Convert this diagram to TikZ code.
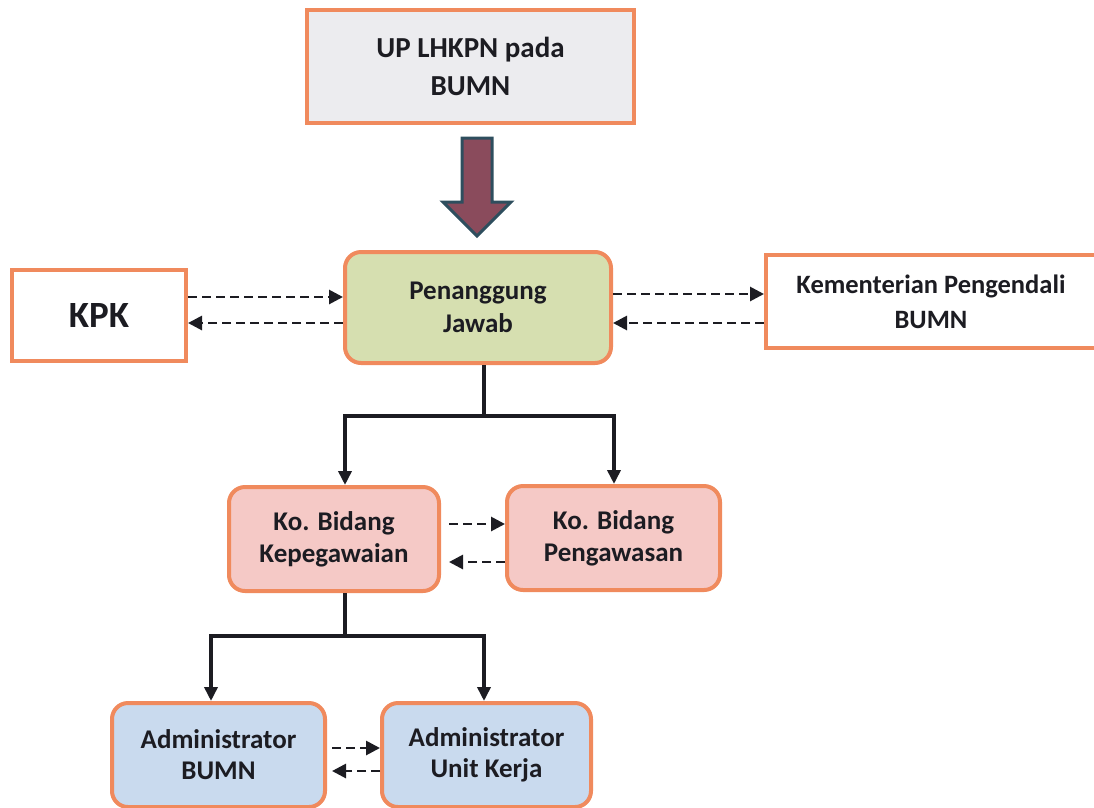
\documentclass[tikz,border=0pt]{standalone}
\usepackage{fontspec}
\setmainfont{Carlito}
\usetikzlibrary{arrows.meta}
\definecolor{borange}{HTML}{F08A5D}
\definecolor{gfill}{HTML}{ECECEF}
\definecolor{grfill}{HTML}{D6DFB0}
\definecolor{pkfill}{HTML}{F5C9C6}
\definecolor{blfill}{HTML}{C9DAEE}
\definecolor{ink}{HTML}{1C1C22}
\definecolor{arrfill}{HTML}{8A4B5C}
\definecolor{arredge}{HTML}{2E4E5E}
\tikzset{
  box/.style={draw=borange, line width=4pt, align=center, text=ink,
    font=\fontsize{27}{32}\selectfont\bfseries, inner sep=0pt},
  rbox/.style={box, rounded corners=16pt},
  dline/.style={draw=ink, line width=2.8pt, dash pattern=on 9pt off 5pt,
    -{Triangle[length=14pt,width=14pt]}},
  tline/.style={draw=ink, line width=3.8pt},
  tarrow/.style={tline, -{Triangle[length=14pt,width=13pt]}},
}
\begin{document}
\begin{tikzpicture}[x=1pt,y=-1pt]
\useasboundingbox (0,0) rectangle (1094,807);
% boxes
\node[box, fill=gfill, minimum width=327pt, minimum height=113pt, font=\fontsize{29}{38}\selectfont\bfseries] (up) at (470.5,66.5) {UP LHKPN pada\\BUMN};
\node[rbox, fill=grfill, minimum width=266pt, minimum height=111pt, font=\fontsize{27}{33}\selectfont\bfseries] (pj) at (478,307.5) {Penanggung\\Jawab};
\node[box, fill=white, minimum width=174pt, minimum height=91pt, font=\fontsize{37}{42}\selectfont\bfseries] (kpk) at (99,315) {KPK};
\node[box, fill=white, minimum width=330pt, minimum height=93pt, font=\fontsize{26.5}{35}\selectfont\bfseries] (kem) at (931,301.5) {Kementerian Pengendali\\BUMN};
\node[rbox, fill=pkfill, minimum width=210pt, minimum height=104pt] (kbk) at (334,539) {Ko. Bidang\\Kepegawaian};
\node[rbox, fill=pkfill, minimum width=213pt, minimum height=104pt] (kbp) at (613.5,538) {Ko. Bidang\\Pengawasan};
\node[rbox, fill=blfill, minimum width=213pt, minimum height=104pt, font=\fontsize{27}{31}\selectfont\bfseries] (ab) at (218.5,755) {Administrator\\BUMN};
\node[rbox, fill=blfill, minimum width=209pt, minimum height=104pt, font=\fontsize{27}{31}\selectfont\bfseries] (au) at (486.5,755) {Administrator\\Unit Kerja};
% big arrow
\coordinate (bat) at (477,236);
\filldraw[fill=arrfill, draw=arredge, line width=3pt, line join=miter]
  (462,138) -- (492,138) -- (492,202) -- (511,202) -- (bat) -- (443,202) -- (462,202) -- cycle;
% dashed exchanges
\draw[dline] (kpk.east |- 0,297) -- (pj.west |- 0,297);
\draw[dline] (pj.west |- 0,323) -- (kpk.east |- 0,323);
\draw[dline] (pj.east |- 0,294) -- (kem.west |- 0,294);
\draw[dline] (kem.west |- 0,323) -- (pj.east |- 0,323);
\draw[dline] (449,524) -- (kbp.west |- 0,524);
\draw[dline] (kbp.west |- 0,562) -- (449,562);
\draw[dline] (332,748) -- (au.west |- 0,748);
\draw[dline] (au.west |- 0,771) -- (332,771);
% tree lines
\coordinate (j1) at (484,416);
\draw[tline] (pj.south -| j1) -- (j1);
\draw[tarrow] (j1) -- (345,416) -- (kbk.north -| 345,0);
\draw[tarrow] (j1) -- (614,416) -- (kbp.north -| 614,0);
\coordinate (j2) at (345,636);
\draw[tline] (kbk.south -| j2) -- (j2);
\draw[tarrow] (j2) -- (211,636) -- (ab.north -| 211,0);
\draw[tarrow] (j2) -- (484,636) -- (au.north -| 484,0);
\end{tikzpicture}
\end{document}
